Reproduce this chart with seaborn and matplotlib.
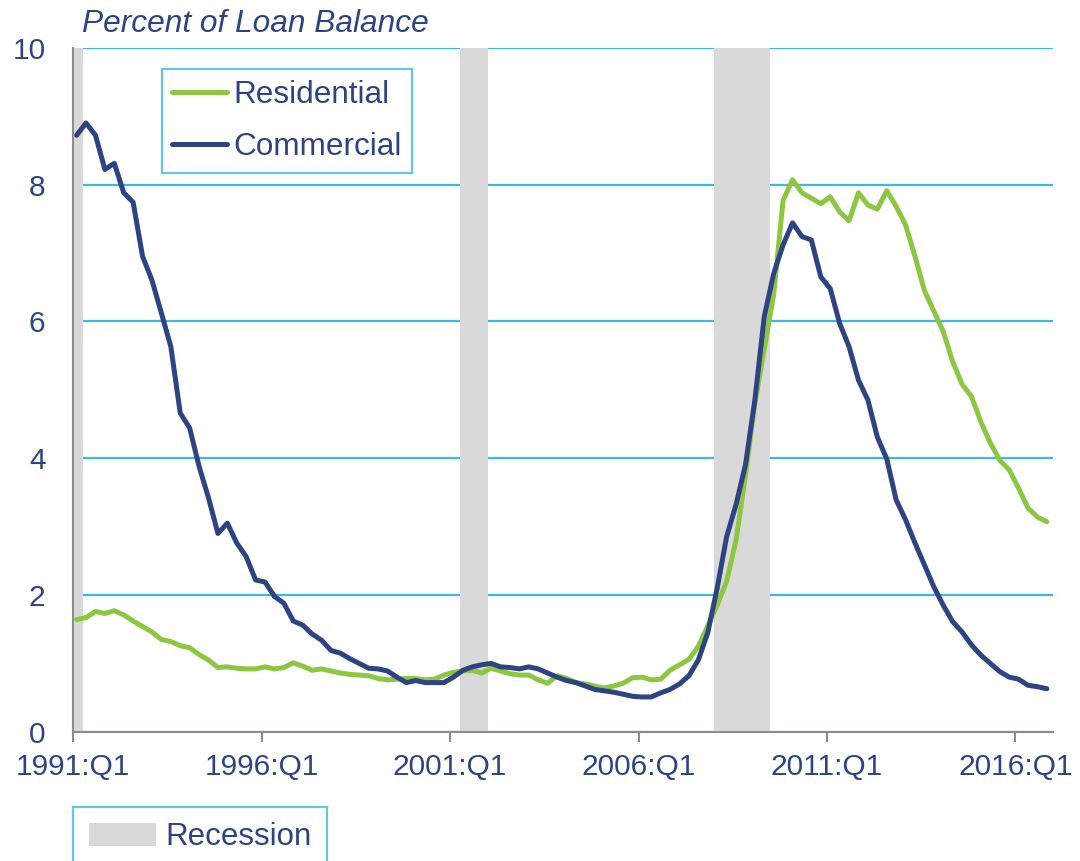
import numpy as np
import pandas as pd
import matplotlib
matplotlib.use("Agg")
import matplotlib.pyplot as plt
from matplotlib.patches import Patch
import seaborn as sns

NAVY = "#2E4482"
GREEN = "#8DC641"
CYAN = "#3DB8E0"
GRAY = "#D9D9D9"
SPINE = "#8C8C8C"

# quarterly delinquency rates, 1991:Q1 - 2016:Q4
quarters = [f"{y}:Q{q}" for y in range(1991, 2017) for q in range(1, 5)]

residential = [
    1.64, 1.67, 1.76, 1.73, 1.77, 1.71, 1.62, 1.54, 1.46, 1.35,
    1.32, 1.26, 1.23, 1.13, 1.05, 0.94, 0.95, 0.93, 0.92, 0.92,
    0.95, 0.92, 0.94, 1.01, 0.96, 0.90, 0.92, 0.89, 0.86, 0.84,
    0.83, 0.82, 0.78, 0.76, 0.77, 0.78, 0.78, 0.76, 0.77, 0.83,
    0.87, 0.89, 0.90, 0.86, 0.93, 0.89, 0.85, 0.83, 0.83, 0.76,
    0.71, 0.82, 0.78, 0.72, 0.70, 0.67, 0.64, 0.67, 0.71, 0.79,
    0.80, 0.76, 0.77, 0.90, 0.98, 1.06, 1.25, 1.55, 1.85, 2.20,
    2.80, 3.75, 4.80, 5.60, 6.40, 7.77, 8.07, 7.88, 7.80, 7.72,
    7.82, 7.60, 7.47, 7.88, 7.70, 7.64, 7.91, 7.68, 7.41, 6.95,
    6.45, 6.15, 5.85, 5.41, 5.08, 4.90, 4.53, 4.22, 3.97, 3.83,
    3.56, 3.27, 3.14, 3.07,
]

commercial = [
    8.72, 8.90, 8.72, 8.22, 8.31, 7.88, 7.74, 6.95, 6.60, 6.12,
    5.63, 4.66, 4.44, 3.88, 3.42, 2.90, 3.05, 2.76, 2.56, 2.22,
    2.19, 1.98, 1.88, 1.62, 1.56, 1.43, 1.34, 1.19, 1.15, 1.07,
    1.00, 0.93, 0.92, 0.89, 0.80, 0.72, 0.75, 0.72, 0.72, 0.72,
    0.80, 0.90, 0.95, 0.98, 1.00, 0.95, 0.94, 0.92, 0.95, 0.92,
    0.86, 0.80, 0.75, 0.72, 0.67, 0.62, 0.60, 0.58, 0.55, 0.52,
    0.51, 0.51, 0.57, 0.62, 0.70, 0.82, 1.05, 1.45, 2.10, 2.85,
    3.32, 3.90, 4.85, 6.07, 6.70, 7.12, 7.44, 7.24, 7.19, 6.65,
    6.48, 5.97, 5.63, 5.14, 4.85, 4.31, 3.99, 3.39, 3.10, 2.76,
    2.44, 2.12, 1.85, 1.61, 1.46, 1.27, 1.12, 1.00, 0.88, 0.80,
    0.77, 0.68, 0.66, 0.63,
]

tick_labels = ["1991:Q1", "1996:Q1", "2001:Q1", "2006:Q1", "2011:Q1", "2016:Q1"]
recession_start = ["1991:Q1", "2001:Q2", "2008:Q1"]
recession_end = ["1991:Q1", "2001:Q4", "2009:Q2"]

sns.set_theme(style="white")
plt.rcParams["font.family"] = ["Liberation Sans", "DejaVu Sans"]

df = pd.DataFrame({
    "q": np.arange(len(quarters)) + 0.35,   # observations dated mid-quarter
    "Residential": residential,
    "Commercial": commercial,
})

fig = plt.figure(figsize=(10.8, 8.61), dpi=100)
ax = fig.add_axes([0.0679, 0.150, 0.9071, 0.7946])

for s, e in zip(recession_start, recession_end):
    ax.axvspan(quarters.index(s), quarters.index(e) + 1, color=GRAY, lw=0, zorder=1)

sns.lineplot(data=df, x="q", y="Residential", ax=ax, color=GREEN, lw=3.6,
             label="Residential", zorder=3)
sns.lineplot(data=df, x="q", y="Commercial", ax=ax, color=NAVY, lw=3.6,
             label="Commercial", zorder=4)

ax.set_xlim(0, 104)
ax.set_ylim(0, 10)
ax.set_yticks([0, 2, 4, 6, 8, 10])
ax.set_xticks([quarters.index(t) for t in tick_labels])
ax.set_xticklabels(tick_labels)
ax.set_xlabel("")
ax.set_ylabel("")

ax.set_axisbelow(True)
ax.yaxis.grid(True, color=CYAN, lw=1.6)
ax.xaxis.grid(False)
for side in ["top", "right"]:
    ax.spines[side].set_visible(False)
for side in ["left", "bottom"]:
    ax.spines[side].set_color(SPINE)
    ax.spines[side].set_linewidth(1.5)

ax.tick_params(axis="x", direction="out", length=7, width=1.5, color=SPINE,
               pad=8, labelsize=21.5, labelcolor=NAVY, bottom=True)
ax.tick_params(axis="y", length=0, pad=20, labelsize=21.5, labelcolor=NAVY)

fig.text(82 / 1080, 1 - 31.7 / 861, "Percent of Loan Balance", fontsize=22.8,
         fontstyle="italic", color=NAVY, va="baseline", ha="left")

leg = ax.legend(loc="upper left", bbox_to_anchor=(161.8 / 1080, 1 - 69.3 / 861),
                bbox_transform=fig.transFigure, frameon=True, fancybox=False,
                edgecolor=CYAN, fontsize=22.7, labelcolor=NAVY, handlelength=1.75,
                handletextpad=0.2, borderpad=0.33, labelspacing=0.72,
                borderaxespad=0)
leg.get_frame().set_linewidth(1.6)

leg2 = fig.legend(handles=[Patch(facecolor=GRAY, edgecolor="none", label="Recession")],
                  loc="upper left", bbox_to_anchor=(73 / 1080, 1 - 806.7 / 861),
                  frameon=True, fancybox=False, edgecolor=CYAN, fontsize=22.5,
                  labelcolor=NAVY, handlelength=2.15, handleheight=0.75,
                  handletextpad=0.3, borderpad=0.5, borderaxespad=0)
leg2.get_frame().set_linewidth(1.6)

fig.savefig("out.png", dpi=100)
